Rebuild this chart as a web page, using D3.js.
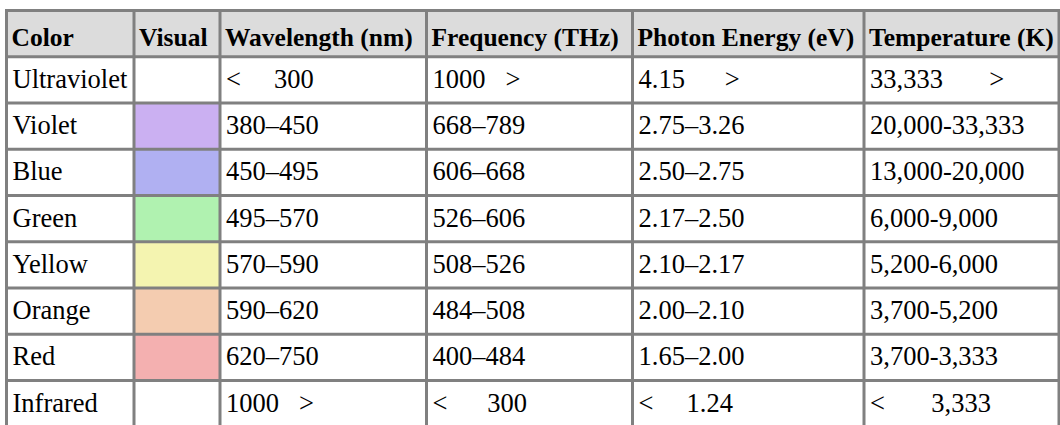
<!DOCTYPE html>
<html>
<head>
<meta charset="utf-8">
<script src="https://cdn.jsdelivr.net/npm/d3@7"></script>
<style>
  body { margin: 0; background: #fff; }
  svg text { font-family: "Liberation Serif", "Times New Roman", serif; white-space: pre; }
</style>
</head>
<body>
<div id="table"></div>
<script>
// table data
var headers = ["Color", "Visual", "Wavelength (nm)", "Frequency (THz)", "Photon Energy (eV)", "Temperature (K)"];
var colorNames = ["Ultraviolet", "Violet", "Blue", "Green", "Yellow", "Orange", "Red", "Infrared"];
var swatches = [null, "#cbb0f2", "#b0b0f2", "#b0f2b0", "#f4f4b0", "#f4ccb0", "#f4b0b0", null];
var wavelength = ["<     300", "380–450", "450–495", "495–570", "570–590", "590–620", "620–750", "1000   >"];
var frequency = ["1000   >", "668–789", "606–668", "526–606", "508–526", "484–508", "400–484", "<      300"];
var energy = ["4.15      >", "2.75–3.26", "2.50–2.75", "2.17–2.50", "2.10–2.17", "2.00–2.10", "1.65–2.00", "<     1.24"];
var temperature = ["33,333       >", "20,000-33,333", "13,000-20,000", "6,000-9,000", "5,200-6,000", "3,700-5,200", "3,700-3,333", "<       3,333"];

var svgWidth = 1060;
var svgHeight = 425;

// column borders (layout only)
var colEdges = [6.5, 134, 220, 426.5, 632.5, 864, 1059];
var rowTop = 10.5;
var rowStep = 46.25;
var borderColor = "#808080";
var headerFill = "#dcdcdc";

var svg = d3.select("#table")
  .append("svg")
  .attr("width", svgWidth)
  .attr("height", svgHeight);

var rowIds = d3.range(colorNames.length + 1);
var yScale = d3.scaleBand()
  .domain(rowIds)
  .range([rowTop, rowTop + rowIds.length * rowStep]);

var xScale = d3.scaleOrdinal()
  .domain(headers)
  .range(colEdges);

function colWidth(i) { return colEdges[i + 1] - colEdges[i]; }

// build rows from the arrays
var rows = colorNames.map(function(name, i) {
  return [name, "", wavelength[i], frequency[i], energy[i], temperature[i]];
});

// header background
svg.append("rect")
  .attr("x", colEdges[0])
  .attr("y", yScale(0))
  .attr("width", colEdges[colEdges.length - 1] - colEdges[0])
  .attr("height", yScale.bandwidth())
  .attr("fill", headerFill);

// swatch cells
svg.append("g").selectAll("rect")
  .data(swatches.map(function(c, i) { return {c: c, i: i}; }).filter(function(d) { return d.c; }))
  .enter()
  .append("rect")
  .attr("x", xScale("Visual"))
  .attr("y", d => yScale(d.i + 1))
  .attr("width", colWidth(1))
  .attr("height", yScale.bandwidth())
  .attr("fill", d => d.c);

// header text
svg.append("g").selectAll("text")
  .data(headers)
  .enter()
  .append("text")
  .attr("x", d => xScale(d) + 5)
  .attr("y", yScale(0) + yScale.bandwidth() / 2 + 12)
  .attr("font-size", "25.5px")
  .attr("font-weight", "bold")
  .attr("fill", "#000")
  .text(d => d);

// body text
var bodyRows = svg.append("g").selectAll("g")
  .data(rows)
  .enter()
  .append("g");

bodyRows.selectAll("text")
  .data(function(d, i) { return d.map(function(v, j) { return {v: v, row: i + 1, col: j}; }); })
  .enter()
  .append("text")
  .attr("x", d => colEdges[d.col] + 6)
  .attr("y", d => yScale(d.row) + yScale.bandwidth() / 2 + 8)
  .attr("font-size", "26.5px")
  .attr("fill", "#000")
  .text(d => d.v);

// borders
var grid = svg.append("g")
  .attr("stroke", borderColor)
  .attr("stroke-width", 3);

grid.selectAll("line.h")
  .data(rowIds.concat([rowIds.length]))
  .enter()
  .append("line")
  .attr("class", "h")
  .attr("x1", colEdges[0] - 1.5)
  .attr("x2", colEdges[colEdges.length - 1] + 1.5)
  .attr("y1", d => rowTop + d * rowStep)
  .attr("y2", d => rowTop + d * rowStep);

grid.selectAll("line.v")
  .data(colEdges)
  .enter()
  .append("line")
  .attr("class", "v")
  .attr("x1", d => d)
  .attr("x2", d => d)
  .attr("y1", rowTop - 1.5)
  .attr("y2", rowTop + rowIds.length * rowStep + 1.5);
</script>
</body>
</html>
